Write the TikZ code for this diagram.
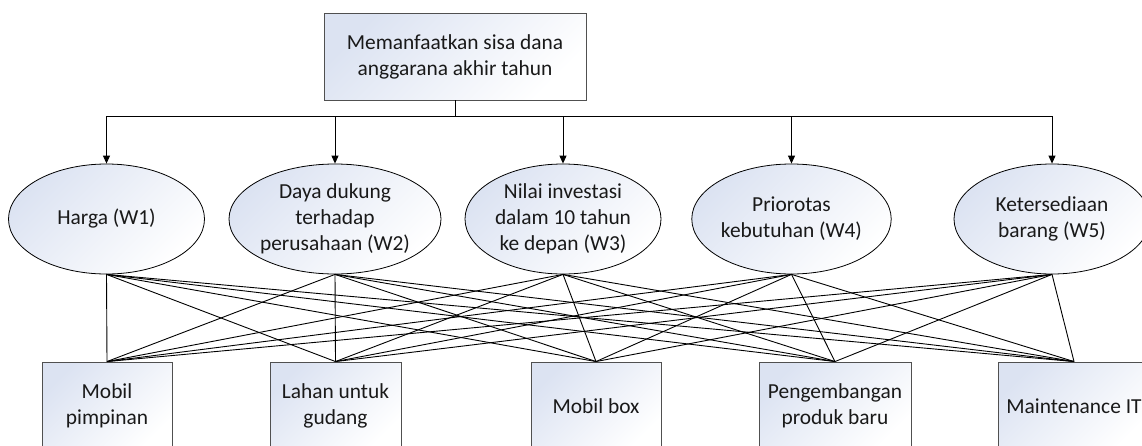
\documentclass[tikz,border=0pt]{standalone}
\usepackage{fontspec}
\setmainfont{Carlito}
\usetikzlibrary{shapes.geometric,arrows.meta}
\definecolor{shadeblue}{HTML}{DCE3F2}
\definecolor{boxedge}{HTML}{505050}
\begin{document}
\begin{tikzpicture}[x=1pt,y=-1pt,
  every node/.style={font=\fontsize{21.4}{26}\selectfont, align=center, inner sep=0pt, text=black!90},
  % light blue in the upper left corner, fading to white
  softfill/.style={top color=shadeblue, middle color=white, bottom color=white, shading angle=45},
  goalbox/.style={rectangle, draw=boxedge, line width=0.9pt, softfill},
  critnode/.style={ellipse, draw=black, line width=0.8pt, softfill,
                   minimum width=196pt, minimum height=110pt},
  altbox/.style={goalbox, minimum height=88pt},
  link/.style={draw=black, line width=0.9pt},
  arr/.style={link, -{Triangle[length=8pt,width=7pt]}}]
\useasboundingbox (0,0) rectangle (1142,445);

% goal
\node[goalbox, minimum width=262pt, minimum height=87pt] (goal) at (455,56.5)
  {Memanfaatkan sisa dana\\anggarana akhir tahun};
\coordinate (bus) at (455,116);

% criteria
\node[critnode] (w1) at (106.5,219) {Harga (W1)};
\node[critnode] (w2) at (335,219) {Daya dukung\\terhadap\\perusahaan (W2)};
\node[critnode] (w3) at (563,219) {Nilai investasi\\dalam 10 tahun\\ke depan (W3)};
\node[critnode] (w4) at (791.5,219) {Priorotas\\kebutuhan (W4)};
\node[critnode] (w5) at (1052,219) {Ketersediaan\\barang (W5)};

% alternatives
\node[altbox, minimum width=130pt] (a1) at (107,406) {Mobil\\pimpinan};
\node[altbox, minimum width=131pt] (a2) at (335.5,406) {Lahan untuk\\gudang};
\node[altbox, minimum width=130pt] (a3) at (596,406) {Mobil box};
\node[altbox, minimum width=152pt] (a4) at (835,406) {Pengembangan\\produk baru};
\node[altbox, minimum width=152pt] (a5) at (1074,406) {Maintenance IT};

% goal to criteria
\foreach \w in {w1,w2,w3,w4,w5}
  \draw[arr] (goal.south) -- (goal.south |- bus) -| (\w.north);

% every criterion to every alternative
\foreach \w in {w1,w2,w3,w4,w5}
  \foreach \a in {a1,a2,a3,a4,a5}
    \draw[link] (\w.south) -- (\a.north);
\end{tikzpicture}
\end{document}
